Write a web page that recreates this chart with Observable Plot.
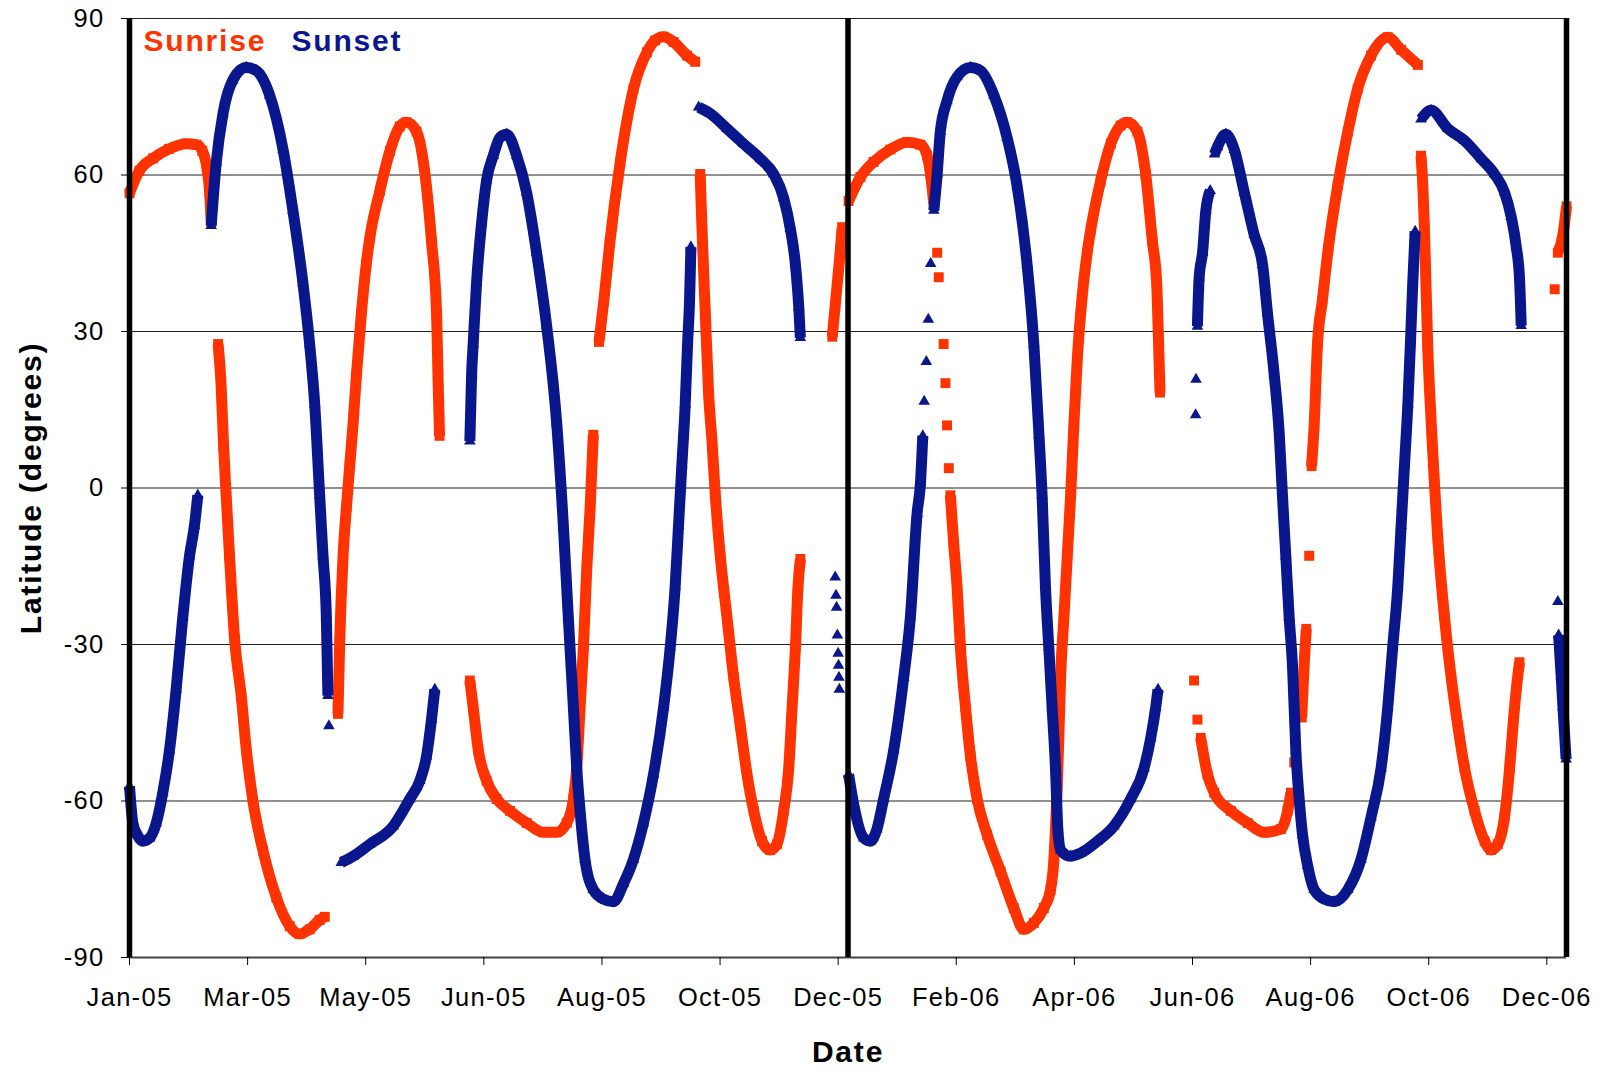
<!DOCTYPE html>
<html>
<head>
<meta charset="utf-8">
<script src="https://cdn.jsdelivr.net/npm/d3@7"></script>
<script src="https://cdn.jsdelivr.net/npm/@observablehq/plot@0.6"></script>
<style>
  html, body { margin: 0; padding: 0; background: #fff; }
  #chart svg [aria-label$="tick label"] text { letter-spacing: 1.3px; }
  #chart svg g[aria-label="text"] text { letter-spacing: 1.8px; }
</style>
</head>
<body>
<div id="chart"></div>
<script>
// ---------- data (days since 1 Jan 2005, latitude in degrees) ----------
const startDate = Date.UTC(2005, 0, 1);
const xTickDays = [0, 60, 120, 180, 240, 300, 360, 420, 480, 540, 600, 660, 720];
const xTickLabels = ["Jan-05", "Mar-05", "May-05", "Jun-05", "Aug-05", "Oct-05", "Dec-05",
                     "Feb-06", "Apr-06", "Jun-06", "Aug-06", "Oct-06", "Dec-06"];
const yTicks = [-90, -60, -30, 0, 30, 60, 90];
const gridLats = [-60, -30, 0, 30, 60, 90];
const yearStartDays = [0, 365, 730];
const seriesNames = ["Sunrise", "Sunset"];
const seriesColors = ["#ff3300", "#0a168c"];
const xTitle = "Date";
const yTitle = "Latitude (degrees)";

// continuous runs (null = break between runs)
const sunriseLine = [
  [0,56.5],[5,60.8],[12,63.2],[20,65],[29,66],[34,65.8],[37,64.6],[39.3,61.4],[40.7,56.7],[41.5,51],
  null,
  [45,27.6],[46.5,20],[47.8,8],[49.1,-1.4],[50.8,-13],[53.4,-29],[56.8,-40],[59.3,-50],[62.7,-60],[67.8,-69.5],[74.6,-78.5],[81.4,-84],[86.4,-85.5],[91.5,-84.6],[96.6,-82.8],[99.2,-82.2],
  null,
  [105.9,-43.3],[106.8,-29.3],[108.5,-13],[110.2,-3.7],[111.9,4.4],[113.6,12.5],[115.3,21.8],[117.8,33.5],[120.3,43],[122.1,48],[127.2,57],[132.3,64.6],[137.3,69.3],[140.7,70.1],[145.8,68.3],[150.1,60.2],[153.4,47.4],[156,33.5],[156.8,20],[157.5,10],
  null,
  [172.9,-36.9],[174.6,-42.1],[177.2,-50.3],[181.4,-56.1],[186.5,-59.6],[193.3,-61.9],[201.7,-64.2],[210.2,-66],[217,-66],[222.1,-64.2],[225.5,-59.6],[227.2,-53.7],[228.9,-42.1],[230.6,-30.5],[232.3,-15.4],[234,-3.8],[235.6,10.2],
  null,
  [238.5,28],[241,36],[244,47],[249.3,62.5],[256,76.5],[262.8,83.5],[267,85.8],[271.3,86.5],[276.4,85.5],[283.2,82.9],[287.4,81.7],
  null,
  [289.9,60.2],[290.8,50],[292.5,33.5],[294.2,18],[295.9,9],[297.6,-1.4],[300.1,-13],[303.5,-24.7],[306.9,-36.3],[310.3,-45.6],[313.7,-54.9],[317.1,-61.9],[321.3,-67.7],[325.5,-69.4],[328.9,-68.3],[332.3,-61.9],[334.9,-53.7],[336.6,-42.1],[338.3,-30.5],[339.6,-18.9],[340.8,-13.6],
  null,
  [357,29],[358.5,35],[360,41],[361.2,46],[362,50],
  null,
  [365.3,55],[371.3,59.6],[378,62.5],[386.5,64.9],[395,66.3],[401.8,65.8],[405.2,63.7],[406.9,60.2],[408.6,54.4],
  null,
  [417,-1.4],[418.7,-10.7],[420.4,-18.9],[422.1,-30.5],[424.7,-42.1],[427.2,-51.4],[430.6,-59.6],[435.7,-66.5],[442.5,-73.5],[449.2,-80.5],[454.3,-84.6],[459.4,-83.4],[464.5,-80.5],[467.9,-77],[469.6,-71.2],[470.4,-65.4],[471.3,-57.2],[472.1,-47.9],[473,-36.3],[474.7,-24.7],[476.4,-13],[478.1,-1.4],[479.8,12.5],[481.4,24.2],[484,36.9],[486.5,45.1],[488.3,49.5],[493.4,59],[498.5,66],[503.5,69.5],[506.9,70.1],[512,68.3],[516.2,60.2],[519.6,47.4],[521.8,39.3],[522.6,30],[523.5,18.3],
  null,
  [544.2,-47.9],[547.6,-54.9],[551,-58.4],[559.5,-61.9],[568,-64.2],[576.4,-66],[584.9,-65.4],[588.3,-61.9],[590,-58.4],
  null,
  [595.5,-44],[596.2,-38],[597,-32],[597.8,-27],
  null,
  [600.5,4.2],[601.8,12],[603.5,27.6],[606,36],[609,46],[613.8,58],[618.9,68.3],[623.9,76.5],[630.7,82.9],[639.2,86.4],[646,84],[654.5,81.1],
  null,
  [656.1,63.7],[657,58],[657.8,50],[659.5,27],[661.2,13],[662.9,0.9],[664.6,-9.6],[668,-24.7],[671.4,-36.3],[674.8,-45.6],[678.2,-53.7],[683.3,-61.9],[688.4,-67.7],[691.7,-69.4],[695.1,-68.3],[698.5,-63.1],[701.1,-53.7],[702.8,-45.6],[704.5,-38.6],[706.1,-33.4],
  null,
  [725.6,45.1],[728.2,48.6],[730,54]
];
// isolated sunrise markers
const sunriseDots = [
  [410.3,45.1],[411.1,40.4],[413.6,27.6],[414.5,20.1],[415.3,12],[416.2,3.8],
  [540.8,-36.9],[542.5,-44.4],[591.7,-52.6],[599.3,-13],[724,38.1]
];

const sunsetLine = [
  [0,-57.2],[1.7,-64.2],[4,-66.5],[6.8,-67.7],[10.2,-67.1],[13.6,-64.2],[16.9,-58.4],[20.3,-50.3],[23.7,-38.6],[27.1,-24.7],[30.5,-13],[33,-7.2],[34.7,-1.4],
  null,
  [41.5,50.3],[44.1,62.5],[47.5,71.8],[52.5,78.2],[59.3,80.6],[64.4,80],[71.2,75.3],[78,64.9],[83,53.2],[88.1,39.3],[91.5,27.6],[94.1,16],[96.6,-1.4],[98.3,-13],[100,-24.7],[100.8,-39.8],
  null,
  [107.6,-71.8],[113.6,-70.6],[122,-68.3],[134,-64.8],[142.4,-59.6],[147.5,-56.1],[150.9,-51.4],[153.4,-44.4],[155.1,-38.6],
  null,
  [172.9,9],[173.8,21.8],[174.6,27.6],[176.3,39.3],[178.9,50.9],[181.4,59],[184.8,63.7],[188.2,67.2],[191.6,67.8],[196.7,63.7],[201.7,56.7],[206.8,45.1],[211.9,31.1],[217,12.5],[220.4,-7.2],[222.9,-24.7],[225.5,-42.1],[227.2,-53.7],[228.9,-61.9],[231.4,-71.2],[235.6,-77],[240.7,-78.8],[245.9,-79.3],[251,-75.8],[256,-71.2],[261.1,-64.2],[266.2,-54.9],[271.3,-42.1],[274.7,-30.5],[277.2,-18.9],[278.9,-7.2],[280.6,4.4],[282.3,16],[283.5,27.6],[284.5,35.8],[285.2,46.2],
  null,
  [289.1,73],[295,71.8],[303.5,68.9],[311.9,66],[320.5,63.1],[327.2,60.2],[332.3,55.6],[335.7,49.7],[338.3,42.8],[340,34.6],[340.8,28.8],
  null,
  [365.3,-54.9],[367.9,-60.7],[373,-67.1],[376.4,-67.7],[379.7,-65.4],[383.1,-59.6],[388.2,-50.3],[393.3,-36.3],[396.7,-24.7],[400.1,-4.9],[401.8,0.9],[403,10],
  null,
  [408.6,53.2],[410.3,60.2],[411.9,68.3],[415.3,74.2],[420.4,78.8],[427.2,80.6],[432.3,80],[439.1,75.3],[445.8,67.2],[450.9,57.9],[456,42.8],[459.4,27.6],[462,10.2],[463.6,-1.4],[465.3,-18.9],[467,-30.5],[468.7,-42.1],[470.4,-53.7],[471.6,-65.4],[473,-69.4],[478,-70.6],[483.1,-70],[491.7,-67.7],[500.1,-64.8],[508.6,-59.6],[515.4,-53.7],[518.8,-47.9],[521.3,-42.1],[522.5,-38.6],
  null,
  [542.5,31],[543.4,40.4],[545.1,45.1],[546.8,53.2],[549,57],
  null,
  [551.2,64],[552.7,65.4],[556.9,67.8],[561.2,64.9],[566.3,56.7],[571.3,48.6],[575.6,42.8],[578.1,33.5],[581.5,21.8],[584.1,10.2],[585.7,-1.4],[587.4,-13],[589.1,-24.7],[590.8,-34],[592.5,-50.3],[594.2,-59.6],[595.9,-66.5],[598.5,-72.4],[601.8,-77],[606.9,-78.8],[612.1,-79.3],[618.9,-77],[625.6,-71.2],[630.7,-63.1],[635.8,-53.7],[639.2,-42.1],[641.7,-30.5],[644.3,-18.9],[646,-7.2],[647.7,4.4],[649.4,16],[650.7,27.6],[651.9,39.3],[653.1,49.2],
  null,
  [656.1,70.7],[661.2,72.4],[669.7,68.9],[678.2,66.6],[686.7,63.1],[693.4,60.2],[698.5,56.7],[701.9,52],[704.5,46.2],[706.1,40.4],[707,31.1],
  null,
  [726,-28.2],[727.3,-36],[728.2,-42],[729.8,-52]
];
// isolated sunset markers
const sunsetDots = [
  [101.3,-45.6],
  [358.5,-17.1],[358.9,-20.6],[359.2,-22.9],[359.6,-28.2],[360,-31.7],[360.2,-34],[360.4,-36.3],[360.6,-38.6],
  [403.7,16.6],[404.8,24.2],[405.8,32.3],[407,43],
  [541.6,14],[541.8,20.8],[725.6,-21.8]
];

// ---------- build ----------
const toDate = d => new Date(startDate + d * 864e5);
const rows = arr => arr.map(p => p ? {date: toDate(p[0]), lat: p[1]} : {date: null, lat: null});
const tickLabelByTime = new Map(xTickDays.map((d, i) => [toDate(d).getTime(), xTickLabels[i]]));

const riseLine = rows(sunriseLine);
const setLine = rows(sunsetLine);
const riseDots = riseLine.filter(d => d.date).concat(rows(sunriseDots));
const setDots = setLine.filter(d => d.date).concat(rows(sunsetDots));

const chart = Plot.plot({
  width: 1604,
  height: 1070,
  marginLeft: 129,
  marginRight: 38,
  marginTop: 18,
  marginBottom: 113,
  style: {fontFamily: "'Liberation Sans', Arial, sans-serif", background: "#fff", color: "#000", overflow: "visible"},
  x: {type: "utc", domain: [toDate(0), toDate(730)]},
  y: {domain: [-90, 90]},
  marks: [
    Plot.ruleY(gridLats, {stroke: "#222", strokeWidth: 1.2}),
    Plot.ruleY([-90], {stroke: "#444", strokeWidth: 2}),
    Plot.line(riseLine, {x: "date", y: "lat", stroke: seriesColors[0], strokeWidth: 11, curve: "monotone-x", strokeLinecap: "butt", strokeLinejoin: "round"}),
    Plot.dot(riseDots, {x: "date", y: "lat", symbol: "square", r: 5.6, fill: seriesColors[0], stroke: "none"}),
    Plot.line(setLine, {x: "date", y: "lat", stroke: seriesColors[1], strokeWidth: 11, curve: "monotone-x", strokeLinecap: "butt", strokeLinejoin: "round"}),
    Plot.dot(setDots, {x: "date", y: "lat", symbol: "triangle", r: 4.3, fill: seriesColors[1], stroke: "none"}),
    Plot.ruleX(yearStartDays.map(toDate), {stroke: "#000", strokeWidth: 5.5}),
    Plot.axisY({ticks: yTicks, tickFormat: d => String(d), tickSize: 8, tickPadding: 17, fontSize: 25.5, label: null}),
    Plot.axisX({ticks: xTickDays.map(toDate), tickFormat: d => tickLabelByTime.get(+d), tickSize: 8, tickPadding: 22, fontSize: 25.5, label: null}),
    Plot.text([yTitle], {text: d => d, frameAnchor: "left", dx: -98, rotate: -90, textAnchor: "middle", lineAnchor: "middle", fontSize: 30, fontWeight: "bold"}),
    Plot.text([xTitle], {text: d => d, frameAnchor: "bottom", dy: 95, textAnchor: "middle", lineAnchor: "middle", fontSize: 30, fontWeight: "bold"}),
    Plot.text([seriesNames[0]], {text: d => d, frameAnchor: "top-left", dx: 14, dy: 23, textAnchor: "start", lineAnchor: "middle", fill: seriesColors[0], fontSize: 30, fontWeight: "bold"}),
    Plot.text([seriesNames[1]], {text: d => d, frameAnchor: "top-left", dx: 162, dy: 23, textAnchor: "start", lineAnchor: "middle", fill: seriesColors[1], fontSize: 30, fontWeight: "bold"})
  ]
});
document.getElementById("chart").append(chart);
</script>
</body>
</html>
